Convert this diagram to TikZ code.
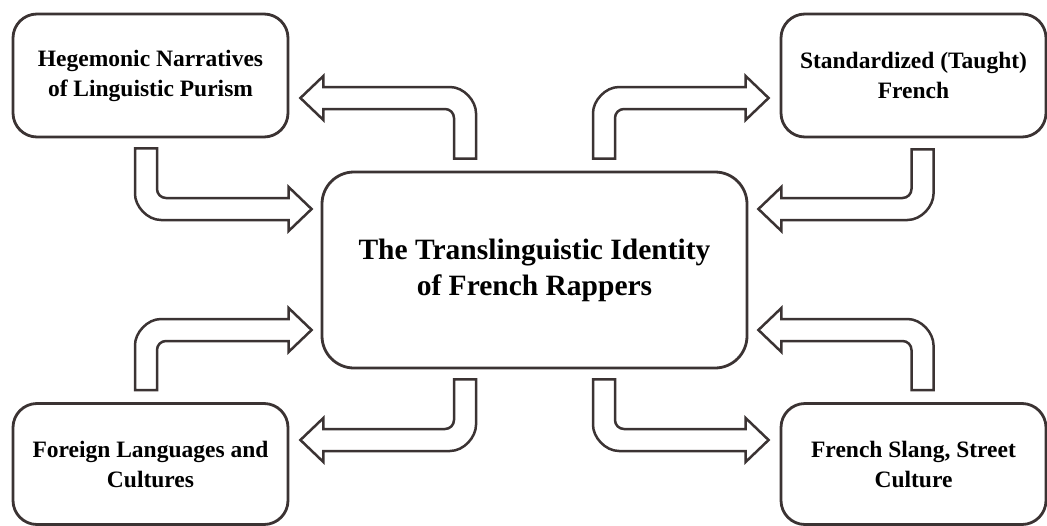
\documentclass[tikz,border=0pt]{standalone}
\usepackage{fontspec}
\setmainfont{Liberation Serif}
\usepackage{tikz}
\usetikzlibrary{calc}
\definecolor{edge}{RGB}{59,51,51}

% hollow bent arrow: #1 = end of the stem, #2 = tip
\newcommand{\bentarrow}[2]{%
\draw[arrowline] let \p1=(#1), \p2=(#2),
  \n1={sign(\x2-\x1)}, \n2={sign(\y2-\y1)} in
  ({\x1+\n1*11pt},\y1) -- ({\x1+\n1*11pt},{\y2-\n2*20pt})
  .. controls ({\x1+\n1*11pt},{\y2-\n2*15pt}) and ({\x1+\n1*15pt},{\y2-\n2*11pt}) .. ({\x1+\n1*20pt},{\y2-\n2*11pt})
  -- ({\x2-\n1*23pt},{\y2-\n2*11pt}) -- ({\x2-\n1*23pt},{\y2-\n2*22pt})
  -- (\x2,\y2)
  -- ({\x2-\n1*23pt},{\y2+\n2*22pt}) -- ({\x2-\n1*23pt},{\y2+\n2*11pt})
  -- ({\x1+\n1*15pt},{\y2+\n2*11pt})
  .. controls ({\x1+\n1*1pt},{\y2+\n2*11pt}) and ({\x1-\n1*11pt},{\y2-\n2*3pt}) .. ({\x1-\n1*11pt},{\y2-\n2*15pt})
  -- ({\x1-\n1*11pt},\y1) -- cycle;
}

\begin{document}
\begin{tikzpicture}[x=1pt,y=-1pt,
  box/.style={draw=edge,line width=2.8pt,rounded corners=24pt,fill=white,
    align=center,inner sep=0pt,font=\bfseries\fontsize{23.5}{30}\selectfont},
  corebox/.style={box,rounded corners=32pt,font=\bfseries\fontsize{29.5}{36}\selectfont},
  arrowline/.style={draw=edge,line width=2.5pt,line join=miter,fill=white}]
\useasboundingbox (0,0) rectangle (1047,525);

% the four sources and the centre
\node[box,minimum width=275pt,minimum height=123pt] (hegem) at (150.5,75.5) {Hegemonic Narratives\\of Linguistic Purism};
\node[box,minimum width=265pt,minimum height=123pt] (standard) at (913.5,75.5) {Standardized (Taught)\\French};
\node[box,minimum width=275pt,minimum height=121pt] (foreign) at (150.5,464) {Foreign Languages and\\Cultures};
\node[box,minimum width=265pt,minimum height=121pt] (slang) at (913.5,464) {French Slang, Street\\Culture};
\node[corebox,minimum width=425pt,minimum height=196pt] (core) at (534.5,270) {The Translinguistic Identity\\of French Rappers};

% arrows
\bentarrow{$(core.north)+(-69.5,-12)$}{$(hegem.east)+(11,22.5)$}
\bentarrow{$(hegem.south)+(-4.5,10)$}{$(core.west)+(-9,-61)$}
\bentarrow{$(core.north)+(69.5,-12)$}{$(standard.west)+(-11,22.5)$}
\bentarrow{$(standard.south)+(9,11)$}{$(core.east)+(10,-61)$}
\bentarrow{$(foreign.north)+(-4.5,-12)$}{$(core.west)+(-9,60)$}
\bentarrow{$(core.south)+(-69.5,10)$}{$(foreign.east)+(11,-24)$}
\bentarrow{$(slang.north)+(9,-12)$}{$(core.east)+(10,60)$}
\bentarrow{$(core.south)+(69.5,10)$}{$(slang.west)+(-11,-24)$}
\end{tikzpicture}
\end{document}
